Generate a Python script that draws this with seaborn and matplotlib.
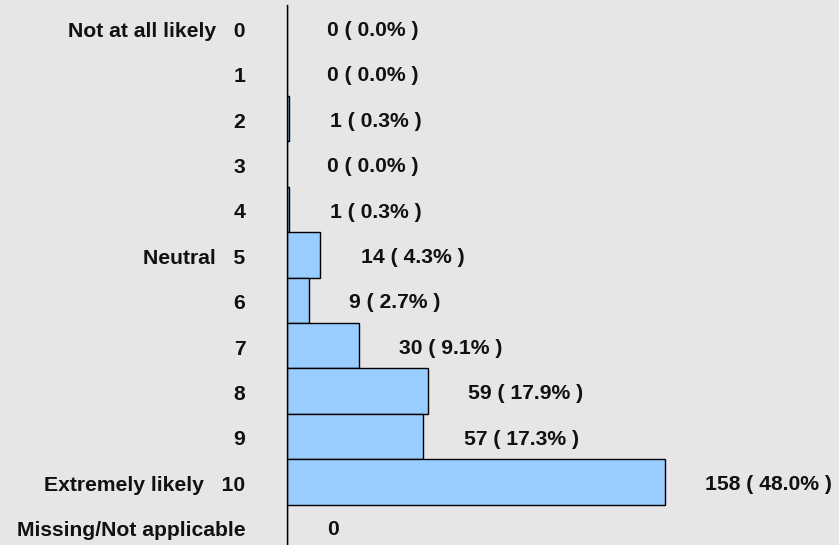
import matplotlib
matplotlib.use("Agg")
import matplotlib.pyplot as plt
import matplotlib.transforms as mtransforms
import seaborn as sns
import pandas as pd

# Responses to "How likely are you to recommend ...?" (0-10 scale)
categories = [
    "Not at all likely   0", "1", "2", "3", "4", "Neutral   5", "6", "7",
    "8", "9", "Extremely likely   10", "Missing/Not applicable",
]
counts = [0, 0, 1, 0, 1, 14, 9, 30, 59, 57, 158, 0]
percents = [0.0, 0.0, 0.3, 0.0, 0.3, 4.3, 2.7, 9.1, 17.9, 17.3, 48.0, None]

df = pd.DataFrame({"category": categories, "count": counts})

sns.set_theme(style="white")
plt.rcParams["font.family"] = ["Liberation Sans", "DejaVu Sans"]
plt.rcParams["font.weight"] = "bold"

bg = "#e6e6e6"
fig = plt.figure(figsize=(8.39, 5.45), dpi=100, facecolor=bg)
ax = fig.add_axes([287 / 839, 0, 1 - 287 / 839, 539.9 / 545])
ax.set_facecolor(bg)

sns.barplot(data=df, x="count", y="category", order=categories,
            orient="h", width=1.0, color="#99ccff", saturation=1,
            edgecolor="black", linewidth=1.0, ax=ax)

for i, (c, p) in enumerate(zip(counts, percents)):
    label = f"{c}" if p is None else f"{c} ( {p:.1f}% )"
    ax.annotate(label, xy=(c, i), xytext=(29, -2), textcoords="offset points",
                ha="left", va="center", fontsize=15.2, fontweight="bold",
                color="#111111")

ax.set_xlim(0, 552 / 2.392)
ax.set_ylim(11.392, -0.5)
ax.set_xlabel("")
ax.set_ylabel("")
ax.set_xticks([])
ax.tick_params(axis="y", length=0, pad=30, labelsize=15.2, labelcolor="#111111")
shift = mtransforms.ScaledTranslation(0, -1.5 / 100, fig.dpi_scale_trans)
for lbl in ax.get_yticklabels():
    lbl.set_fontweight("bold")
    lbl.set_transform(lbl.get_transform() + shift)

for side in ["top", "right", "bottom"]:
    ax.spines[side].set_visible(False)
ax.spines["left"].set_color("black")
ax.spines["left"].set_linewidth(1.0)

fig.savefig("out.png", dpi=100, facecolor=bg)
